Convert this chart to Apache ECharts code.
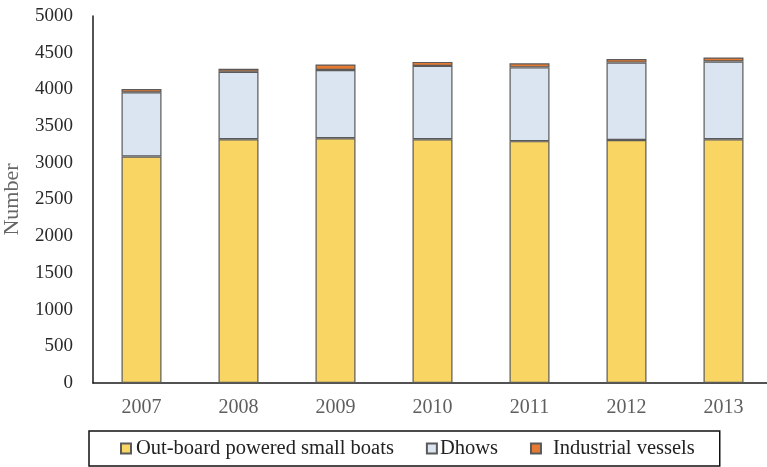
<!DOCTYPE html>
<html>
<head>
<meta charset="utf-8">
<script src="https://cdn.jsdelivr.net/npm/echarts@6/dist/echarts.min.js"></script>
<style>
  html, body { margin: 0; padding: 0; background: #fff; overflow: hidden; }
  #chart { width: 780px; height: 467px; }
</style>
</head>
<body>
<div id="chart"></div>
<script>
// Fishing fleet composition by year
const years = ['2007', '2008', '2009', '2010', '2011', '2012', '2013'];
const outboardBoats = [3085, 3320, 3335, 3320, 3295, 3310, 3320];
const dhows = [875, 920, 930, 1000, 1005, 1055, 1060];
const industrialVessels = [45, 40, 75, 55, 55, 50, 55];
const yTicks = [0, 500, 1000, 1500, 2000, 2500, 3000, 3500, 4000, 4500, 5000];
const seriesNames = ['Out-board powered small boats', 'Dhows', 'Industrial vessels'];

const serif = '"Liberation Serif", "Times New Roman", serif';
const barBorder = { borderColor: '#5a5a5a', borderWidth: 1.2 };

function stackSeries(name, data, color) {
  return {
    name: name,
    type: 'bar',
    stack: 'fleet',
    barWidth: 40,
    data: data,
    itemStyle: Object.assign({ color: color }, barBorder)
  };
}

const chart = echarts.init(document.getElementById('chart'));
chart.setOption({
  animation: false,
  backgroundColor: '#ffffff',
  grid: { left: 93, top: 16, width: 679, height: 367, outerBoundsMode: 'none', containLabel: false },
  xAxis: {
    type: 'category',
    data: years,
    axisLine: { lineStyle: { color: '#1a1a1a', width: 1.5 } },
    axisTick: { show: false },
    axisLabel: { color: '#5e5e5e', fontFamily: serif, fontSize: 20, margin: 15 }
  },
  yAxis: {
    type: 'value',
    min: yTicks[0],
    max: yTicks[yTicks.length - 1],
    interval: yTicks[1] - yTicks[0],
    name: 'Number',
    nameLocation: 'middle',
    nameGap: 70,
    nameMoveOverlap: false,
    nameTextStyle: { color: '#666', fontFamily: serif, fontSize: 22 },
    axisLine: { show: true, lineStyle: { color: '#1a1a1a', width: 1.5 } },
    axisTick: { show: false },
    splitLine: { show: false },
    axisLabel: {
      color: '#2a2a2a', fontFamily: serif, fontSize: 19, margin: 20,
      formatter: function (v) { return String(v); }
    }
  },
  legend: {
    left: 89,
    top: 431,
    padding: [7, 25, 7, 31],
    itemGap: 32,
    itemWidth: 10,
    itemHeight: 10,
    borderColor: '#111',
    borderWidth: 1.5,
    icon: 'rect',
    textStyle: { color: '#222', fontFamily: serif, fontSize: 20.5 },
    data: [
      { name: seriesNames[0] },
      { name: seriesNames[1], textStyle: { padding: [0, 0, 0, -2] } },
      { name: seriesNames[2], textStyle: { padding: [0, 0, 0, 7] } }
    ]
  },
  series: [
    stackSeries(seriesNames[0], outboardBoats, '#f9d664'),
    stackSeries(seriesNames[1], dhows, '#dbe5f1'),
    stackSeries(seriesNames[2], industrialVessels, '#e57a32')
  ]
});
</script>
</body>
</html>
